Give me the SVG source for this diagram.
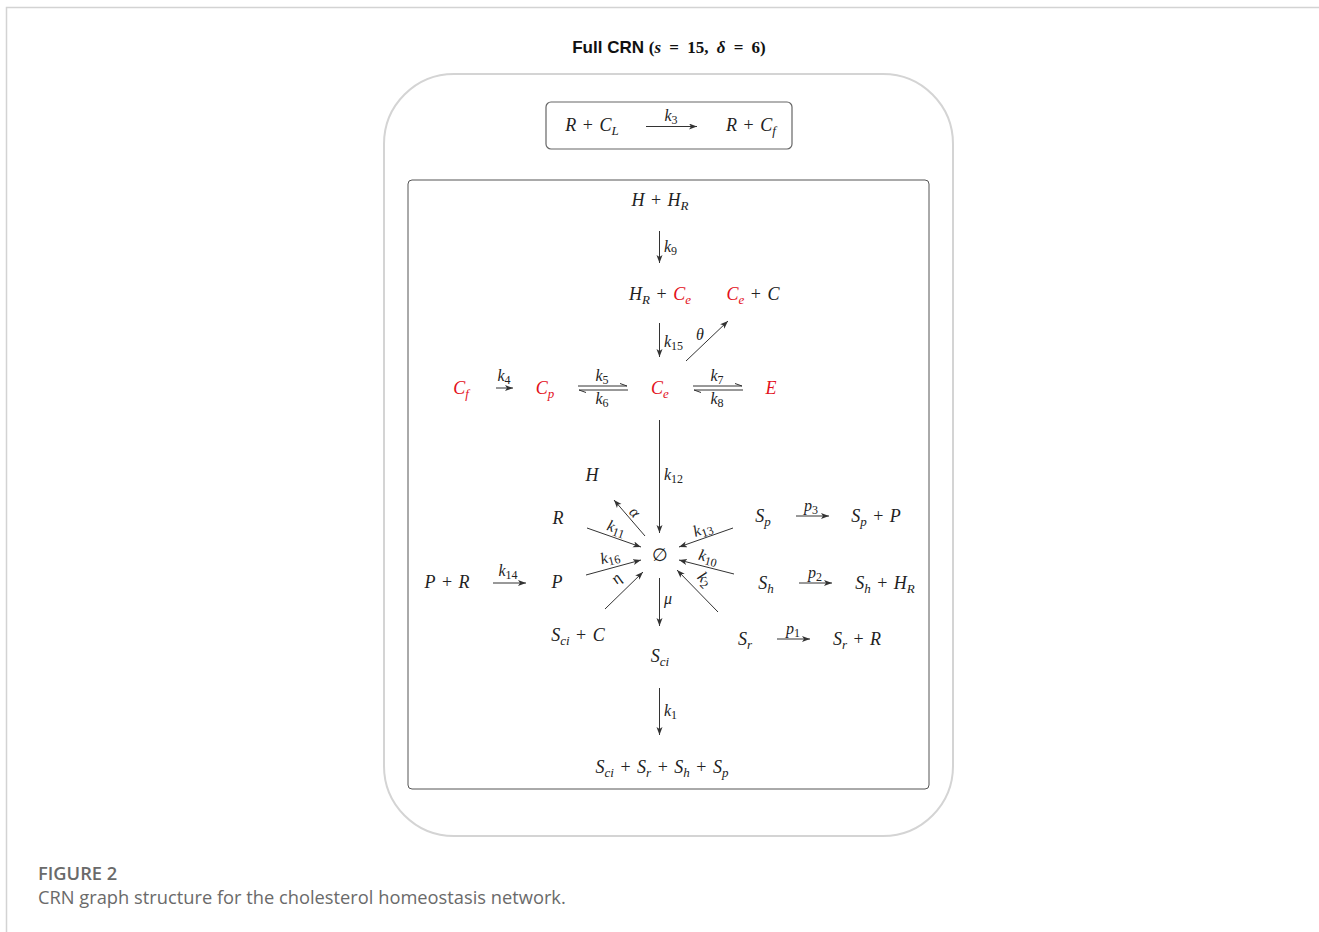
<svg xmlns="http://www.w3.org/2000/svg" width="1319" height="932" viewBox="0 0 1319 932">
<style>
.m{font-family:"Liberation Serif",serif;font-style:italic;font-size:18px;fill:#222;word-spacing:2px}
.l{font-family:"Liberation Serif",serif;font-style:italic;font-size:16px;fill:#222}
.n{font-style:normal}
.s{font-size:13px}
.ls{font-size:12px;font-style:normal}
.r{fill:#e3111b}
.c{stroke:#333;stroke-width:1;fill:none}
.cap{font-family:"Open Sans",sans-serif;font-size:18.3px;fill:#6a6a6a}
</style>
<defs>
<marker id="ah" markerUnits="userSpaceOnUse" markerWidth="9" markerHeight="7" refX="8" refY="3" orient="auto">
<path d="M0,0 L8,3 L0,6 L2,3 z" fill="#333"/>
</marker>
</defs>
<rect width="1319" height="932" fill="#fff"/>
<path d="M6.5,932 V7.5 H1319" fill="none" stroke="#d3d3d3" stroke-width="1.5"/>
<g id="title">
<text x="669" y="53" text-anchor="middle" style="font-size:17px;fill:#111"><tspan style="font-family:'Liberation Sans',sans-serif;font-weight:bold">Full CRN </tspan><tspan style="font-family:'Liberation Serif',serif;font-weight:bold;word-spacing:4px">(<tspan font-style="italic">s</tspan> = 15, <tspan font-style="italic">δ</tspan> = 6)</tspan></text>
</g>
<rect id="outer" x="384" y="74" width="569" height="762" rx="70" fill="none" stroke="#d4d4d4" stroke-width="2"/>
<g id="topbox">
<rect x="546" y="102" width="246" height="47" rx="5" fill="none" stroke="#666" stroke-width="1.2"/>
<text class="m" x="592" y="131" text-anchor="middle">R<tspan class="n"> + </tspan>C<tspan class="s" dy="4">L</tspan></text>
<text class="m" x="751" y="131" text-anchor="middle">R<tspan class="n"> + </tspan>C<tspan class="s" dy="4">f</tspan></text>
</g>
<rect id="inner" x="408" y="180" width="521" height="609" rx="4" fill="none" stroke="#555" stroke-width="1"/>
<g id="nodes">
<text id="HHR" class="m" x="660" y="206" text-anchor="middle">H<tspan class="n"> + </tspan>H<tspan class="s" dy="4">R</tspan></text>
<text id="HRCe" class="m" x="660" y="300" text-anchor="middle">H<tspan class="s" dy="4">R</tspan><tspan class="n" dy="-4"> + </tspan><tspan class="r">C</tspan><tspan class="s r" dy="4">e</tspan></text>
<text id="CeC" class="m" x="753" y="300" text-anchor="middle"><tspan class="r">C</tspan><tspan class="s r" dy="4">e</tspan><tspan class="n" dy="-4"> + </tspan>C</text>
<text id="Cf" class="m r" x="461" y="394" text-anchor="middle">C<tspan class="s" dy="4">f</tspan></text>
<text id="Cp" class="m r" x="545" y="394" text-anchor="middle">C<tspan class="s" dy="4">p</tspan></text>
<text id="Ce" class="m r" x="660" y="394" text-anchor="middle">C<tspan class="s" dy="4">e</tspan></text>
<text id="E" class="m r" x="771" y="394" text-anchor="middle">E</text>
<text id="empty" class="m n" x="660" y="561" text-anchor="middle">∅</text>
<text id="H" class="m" x="592" y="481" text-anchor="middle">H</text>
<text id="R" class="m" x="558" y="524" text-anchor="middle">R</text>
<text id="P" class="m" x="557" y="588" text-anchor="middle">P</text>
<text id="PR" class="m" x="447" y="588" text-anchor="middle">P<tspan class="n"> + </tspan>R</text>
<text id="SciC" class="m" x="578" y="641" text-anchor="middle">S<tspan class="s" dy="4">ci</tspan><tspan class="n" dy="-4"> + </tspan>C</text>
<text id="Sci" class="m" x="660" y="662" text-anchor="middle">S<tspan class="s" dy="4">ci</tspan></text>
<text id="Sp" class="m" x="763" y="522" text-anchor="middle">S<tspan class="s" dy="4">p</tspan></text>
<text id="SpP" class="m" x="876" y="522" text-anchor="middle">S<tspan class="s" dy="4">p</tspan><tspan class="n" dy="-4"> + </tspan>P</text>
<text id="Sh" class="m" x="766" y="589" text-anchor="middle">S<tspan class="s" dy="4">h</tspan></text>
<text id="ShHR" class="m" x="885" y="589" text-anchor="middle">S<tspan class="s" dy="4">h</tspan><tspan class="n" dy="-4"> + </tspan>H<tspan class="s" dy="4">R</tspan></text>
<text id="Sr" class="m" x="745" y="645" text-anchor="middle">S<tspan class="s" dy="4">r</tspan></text>
<text id="SrR" class="m" x="857" y="645" text-anchor="middle">S<tspan class="s" dy="4">r</tspan><tspan class="n" dy="-4"> + </tspan>R</text>
<text id="Sall" class="m" x="662" y="773" text-anchor="middle">S<tspan class="s" dy="4">ci</tspan><tspan class="n" dy="-4"> + </tspan>S<tspan class="s" dy="4">r</tspan><tspan class="n" dy="-4"> + </tspan>S<tspan class="s" dy="4">h</tspan><tspan class="n" dy="-4"> + </tspan>S<tspan class="s" dy="4">p</tspan></text>
</g>
<g id="connectors">
<line class="c" x1="646" y1="126.5" x2="697" y2="126.5" marker-end="url(#ah)"/>
<line class="c" x1="659.5" y1="231" x2="659.5" y2="263" marker-end="url(#ah)"/>
<line class="c" x1="659.5" y1="323" x2="659.5" y2="357" marker-end="url(#ah)"/>
<line class="c" x1="686" y1="361" x2="728" y2="321" marker-end="url(#ah)"/>
<line class="c" x1="496" y1="388" x2="513" y2="388" marker-end="url(#ah)"/>
<path class="c" d="M578,386 H627 M627,386 L620,383.5 M628,390 H579 M579,390 L586,392.5"/>
<path class="c" d="M693,386 H742 M742,386 L735,383.5 M743,390 H694 M694,390 L701,392.5"/>
<line class="c" x1="659.5" y1="420" x2="659.5" y2="533" marker-end="url(#ah)"/>
<line class="c" x1="645" y1="536" x2="614" y2="500" marker-end="url(#ah)"/>
<line class="c" x1="587" y1="528" x2="641" y2="547" marker-end="url(#ah)"/>
<line class="c" x1="586" y1="575" x2="641" y2="560" marker-end="url(#ah)"/>
<line class="c" x1="605" y1="609" x2="643" y2="572" marker-end="url(#ah)"/>
<line class="c" x1="659.5" y1="578" x2="659.5" y2="626" marker-end="url(#ah)"/>
<line class="c" x1="733" y1="528" x2="679" y2="547" marker-end="url(#ah)"/>
<line class="c" x1="734" y1="574" x2="679" y2="560" marker-end="url(#ah)"/>
<line class="c" x1="718" y1="612" x2="677" y2="570" marker-end="url(#ah)"/>
<line class="c" x1="493" y1="583" x2="526" y2="583" marker-end="url(#ah)"/>
<line class="c" x1="796" y1="516" x2="829" y2="516" marker-end="url(#ah)"/>
<line class="c" x1="799" y1="583" x2="832" y2="583" marker-end="url(#ah)"/>
<line class="c" x1="777" y1="639" x2="810" y2="639" marker-end="url(#ah)"/>
<line class="c" x1="659.5" y1="688" x2="659.5" y2="735" marker-end="url(#ah)"/>
</g>
<g id="labels">
<text class="l" x="671" y="121" text-anchor="middle">k<tspan class="ls" dy="3">3</tspan></text>
<text class="l" x="664" y="252">k<tspan class="ls" dy="3">9</tspan></text>
<text class="l" x="664" y="347">k<tspan class="ls" dy="3">15</tspan></text>
<text class="l" x="700" y="340" text-anchor="middle">θ</text>
<text class="l" x="504" y="381" text-anchor="middle">k<tspan class="ls" dy="3">4</tspan></text>
<text class="l" x="602" y="381" text-anchor="middle">k<tspan class="ls" dy="3">5</tspan></text>
<text class="l" x="602" y="404" text-anchor="middle">k<tspan class="ls" dy="3">6</tspan></text>
<text class="l" x="717" y="381" text-anchor="middle">k<tspan class="ls" dy="3">7</tspan></text>
<text class="l" x="717" y="404" text-anchor="middle">k<tspan class="ls" dy="3">8</tspan></text>
<text class="l" x="664" y="480">k<tspan class="ls" dy="3">12</tspan></text>
<text class="l" x="664" y="604">μ</text>
<text class="l" x="664" y="716">k<tspan class="ls" dy="3">1</tspan></text>
<text class="l" x="508" y="576" text-anchor="middle">k<tspan class="ls" dy="3">14</tspan></text>
<text class="l" x="811" y="511" text-anchor="middle">p<tspan class="ls" dy="3">3</tspan></text>
<text class="l" x="815" y="578" text-anchor="middle">p<tspan class="ls" dy="3">2</tspan></text>
<text class="l" x="793" y="634" text-anchor="middle">p<tspan class="ls" dy="3">1</tspan></text>
<text class="l" text-anchor="middle" transform="translate(634,513) rotate(46)" y="4">α</text>
<text class="l" text-anchor="middle" transform="translate(616,529) rotate(19)" y="4">k<tspan class="ls" dy="3">11</tspan></text>
<text class="l" text-anchor="middle" transform="translate(610,558) rotate(-14)" y="4">k<tspan class="ls" dy="3">16</tspan></text>
<text class="l" text-anchor="middle" transform="translate(617,579) rotate(-45)" y="4">η</text>
<text class="l" text-anchor="middle" transform="translate(703,530) rotate(-19)" y="4">k<tspan class="ls" dy="3">13</tspan></text>
<text class="l" text-anchor="middle" transform="translate(708,558) rotate(14)" y="4">k<tspan class="ls" dy="3">10</tspan></text>
<text class="l" text-anchor="middle" transform="translate(704,580) rotate(46)" y="4">k<tspan class="ls" dy="3">2</tspan></text>
</g>
<g id="caption">
<text class="cap" x="38" y="880" style="font-weight:600">FIGURE 2</text>
<text class="cap" x="38" y="904">CRN graph structure for the cholesterol homeostasis network.</text>
</g>
</svg>
